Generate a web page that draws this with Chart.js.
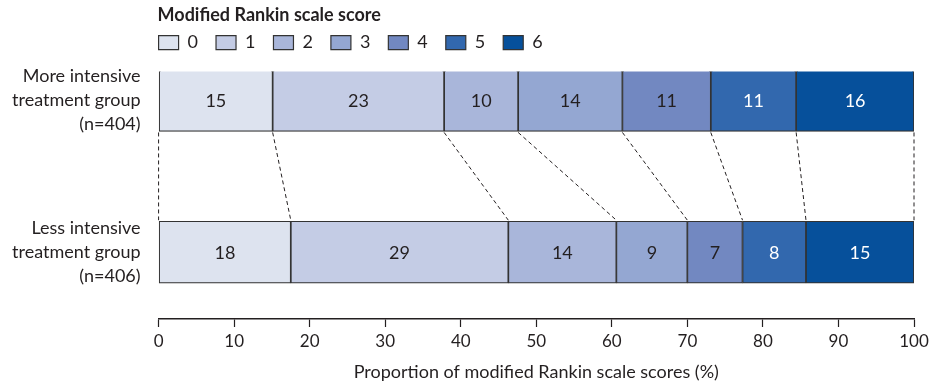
<!DOCTYPE html>
<html>
<head>
<meta charset="utf-8">
<script src="https://cdn.jsdelivr.net/npm/chart.js@4"></script>
<style>
  html, body { margin: 0; padding: 0; background: #fff; }
</style>
</head>
<body>
<canvas id="chart" width="937" height="387"></canvas>
<script>
// modified Rankin scale scores 0..6
const scores = ['0', '1', '2', '3', '4', '5', '6'];
const groups = [
  ['More intensive', 'treatment group', '(n=404)'],
  ['Less intensive', 'treatment group', '(n=406)']
];
// segment widths (%)
const moreIntensive = [15.1, 22.7, 9.8, 13.8, 11.7, 11.3, 15.6];
const lessIntensive = [17.5, 28.8, 14.3, 9.4, 7.3, 8.4, 14.3];
// numbers printed in the segments
const moreLabels = ['15', '23', '10', '14', '11', '11', '16'];
const lessLabels = ['18', '29', '14', '9', '7', '8', '15'];
const xTicks = [0, 10, 20, 30, 40, 50, 60, 70, 80, 90, 100];

const colors = ['#dde3ef', '#c4cce5', '#a9b6da', '#94a7d2', '#7288c1', '#3268ae', '#06509b'];
const textColors = ['#231f20', '#231f20', '#231f20', '#231f20', '#231f20', '#ffffff', '#ffffff'];
const ink = '#231f20';
const font = 'Lato';

Chart.defaults.font.family = font;
Chart.defaults.color = ink;

const datasets = scores.map((s, i) => ({
  label: s,
  data: [{ x: moreIntensive[i], y: 0 }, { x: lessIntensive[i], y: 1 }],
  backgroundColor: colors[i],
  borderColor: '#333',
  borderWidth: 1.2,
  borderSkipped: false,
  barThickness: 62
}));

// numbers inside each segment
const segmentLabels = {
  id: 'segmentLabels',
  afterDatasetsDraw(chart) {
    const ctx = chart.ctx;
    const texts = [moreLabels, lessLabels];
    ctx.save();
    ctx.font = '18px ' + font;
    ctx.textAlign = 'center';
    ctx.textBaseline = 'middle';
    chart.data.datasets.forEach((ds, i) => {
      chart.getDatasetMeta(i).data.forEach((el, r) => {
        ctx.fillStyle = textColors[i];
        ctx.fillText(texts[r][i], (el.x + el.base) / 2, el.y + 1);
      });
    });
    ctx.restore();
  }
};

// dashed lines joining matching cumulative boundaries of the two bars
const connectors = {
  id: 'connectors',
  afterDatasetsDraw(chart) {
    const ctx = chart.ctx;
    const xs = chart.scales.x;
    const metas = chart.data.datasets.map((d, i) => chart.getDatasetMeta(i));
    const first = metas[0].data;
    const pts = [[xs.getPixelForValue(0), xs.getPixelForValue(0)]];
    metas.forEach(m => pts.push([m.data[0].x, m.data[1].x]));
    const top = first[0].y + first[0].height / 2;
    const bottom = first[1].y - first[1].height / 2;
    ctx.save();
    ctx.strokeStyle = ink;
    ctx.lineWidth = 1;
    ctx.setLineDash([4, 3]);
    pts.forEach(([a, b]) => {
      ctx.beginPath();
      ctx.moveTo(a, top + 1);
      ctx.lineTo(b, bottom - 1);
      ctx.stroke();
    });
    ctx.restore();
  }
};

// put the title and legend row at the plot's left edge
const legendShift = {
  id: 'legendShift',
  afterLayout(chart) {
    const left = chart.chartArea.left;
    const t = chart.titleBlock;
    const dt = left - 1 - t.left;
    t.left += dt; t.right += dt;
    const lg = chart.legend;
    const dl = left - 18 - lg.left;
    lg.left += dl; lg.right += dl;
    lg.top -= 10; lg.bottom -= 10;
  }
};

new Chart(document.getElementById('chart'), {
  type: 'bar',
  data: { datasets },
  plugins: [segmentLabels, connectors, legendShift],
  options: {
    responsive: false,
    animation: false,
    indexAxis: 'y',
    layout: { padding: { left: -6, right: 23, top: 0, bottom: 0 } },
    plugins: {
      tooltip: { enabled: false },
      title: {
        display: true,
        text: 'Modified Rankin scale score',
        align: 'start',
        font: { size: 18, weight: 'bold' },
        color: ink,
        padding: { top: 4, bottom: 0 }
      },
      legend: {
        position: 'top',
        align: 'start',
        labels: {
          boxWidth: 20,
          boxHeight: 14,
          padding: 18,
          font: { size: 18 },
          color: ink
        }
      }
    },
    scales: {
      x: {
        type: 'linear',
        stacked: true,
        min: 0,
        max: 100,
        afterBuildTicks: s => { s.ticks = xTicks.map(v => ({ value: v })); },
        grid: { drawOnChartArea: false, drawTicks: true, tickLength: 8, color: ink, tickWidth: 1.2 },
        border: { display: true, color: ink, width: 1.5 },
        ticks: { font: { size: 17 }, color: ink, padding: 4 },
        title: {
          display: true,
          text: 'Proportion of modified Rankin scale scores (%)',
          font: { size: 18 },
          color: ink,
          padding: { top: 6 }
        }
      },
      y: {
        type: 'linear',
        stacked: true,
        reverse: true,
        offset: false,
        min: -0.19,
        max: 1.44,
        afterBuildTicks: s => { s.ticks = groups.map((g, i) => ({ value: i })); },
        grid: { display: false, drawTicks: false, offset: false },
        border: { display: false },
        ticks: {
          callback: v => groups[v],
          font: { size: 18, lineHeight: 1.33 },
          color: ink,
          padding: 18
        }
      }
    }
  }
});
</script>
</body>
</html>
